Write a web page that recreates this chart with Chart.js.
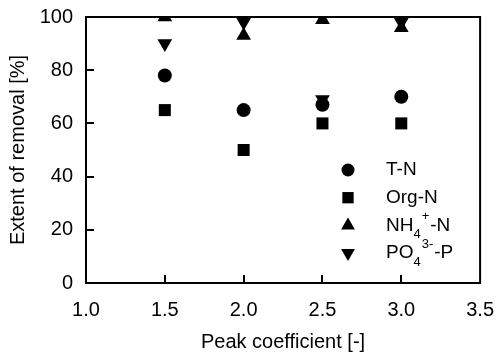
<!DOCTYPE html>
<html lang="en">
<head>
  <meta charset="UTF-8">
  <title>Extent of removal vs peak coefficient</title>
  <script src="https://cdn.jsdelivr.net/npm/chart.js"></script>
  <style>
    body { margin: 0; background: #fff; }
    #wrap { width: 501px; height: 354px; }
  </style>
</head>
<body>
  <div id="wrap"><canvas id="chart" width="501" height="354"></canvas></div>

  <script>
    // values
    const peak = [1.5, 2.0, 2.5, 3.0];
    const tN = [78, 65, 67, 70];
    const orgN = [65, 50, 60, 60];
    const nh4N = [100, 93, 99, 96];
    const po4P = [90, 98, 69, 98];
    const xTicks = [1.0, 1.5, 2.0, 2.5, 3.0, 3.5];
    const yTicks = [0, 20, 40, 60, 80, 100];

    const FONT = '"Liberation Sans", Arial, sans-serif';

    function pts(ys) {
      return peak.map((x, i) => ({ x: x, y: ys[i] }));
    }

    const series = [
      { label: 'T-N', data: pts(tN), style: 'circle', radius: 7, rot: 0, parts: [['T-N', 0]] },
      { label: 'Org-N', data: pts(orgN), style: 'rect', radius: 8.5, rot: 0, parts: [['Org-N', 0]] },
      { label: 'NH4+-N', data: pts(nh4N), style: 'triangle', radius: 8.5, rot: 0,
        parts: [['NH', 0], ['4', 1], ['+', -1], ['-N', 0]] },
      { label: 'PO43--P', data: pts(po4P), style: 'triangle', radius: 8.5, rot: 180,
        parts: [['PO', 0], ['4', 1], ['3-', -1], ['-P', 0]] }
    ];

    // box around the plot + inward tick marks
    const frame = {
      id: 'frame',
      afterDraw(chart) {
        const ctx = chart.ctx, a = chart.chartArea;
        const xs = chart.scales.x, ys = chart.scales.y;
        ctx.save();
        ctx.strokeStyle = '#000';
        ctx.lineWidth = 2;
        ctx.strokeRect(a.left, a.top, a.right - a.left, a.bottom - a.top);
        ctx.beginPath();
        yTicks.slice(1, -1).forEach(v => {
          const y = Math.round(ys.getPixelForValue(v));
          ctx.moveTo(a.left, y);
          ctx.lineTo(a.left + 8, y);
        });
        xTicks.slice(1, -1).forEach(v => {
          const x = Math.round(xs.getPixelForValue(v));
          ctx.moveTo(x, a.bottom);
          ctx.lineTo(x, a.bottom - 8);
        });
        ctx.stroke();
        ctx.restore();
      }
    };

    function marker(ctx, style, x, y, r, rot) {
      ctx.beginPath();
      if (style === 'circle') {
        ctx.arc(x, y, r, 0, Math.PI * 2);
      } else if (style === 'rect') {
        const s = r * Math.SQRT1_2;
        ctx.rect(x - s, y - s, 2 * s, 2 * s);
      } else {
        const d = rot ? -1 : 1;
        ctx.moveTo(x, y - d * r);
        ctx.lineTo(x + r * 0.866, y + d * r * 0.5);
        ctx.lineTo(x - r * 0.866, y + d * r * 0.5);
        ctx.closePath();
      }
      ctx.fill();
    }

    // legend with sub/superscripts, drawn inside the plot
    const legendBox = {
      id: 'legendBox',
      afterDraw(chart) {
        const ctx = chart.ctx;
        ctx.save();
        ctx.fillStyle = '#000';
        ctx.textBaseline = 'middle';
        series.forEach((s, i) => {
          const y = 170 + i * 27.7;
          marker(ctx, s.style, 348, y, s.style === 'circle' ? 6.5 : s.radius - 0.5, s.rot);
          let x = 386;
          s.parts.forEach(([t, pos]) => {
            if (pos === 0) {
              ctx.font = '19px ' + FONT;
              ctx.fillText(t, x, y);
            } else {
              ctx.font = '13px ' + FONT;
              ctx.fillText(t, x, y + (pos > 0 ? 9 : -9));
            }
            x += ctx.measureText(t).width + (pos === 0 ? 0 : 1);
          });
        });
        ctx.restore();
      }
    };

    new Chart(document.getElementById('chart'), {
      type: 'scatter',
      data: {
        datasets: series.map(s => ({
          label: s.label,
          data: s.data,
          pointStyle: s.style,
          pointRadius: s.radius,
          pointRotation: s.rot,
          backgroundColor: '#000',
          borderColor: '#000',
          borderWidth: 0
        }))
      },
      options: {
        responsive: false,
        animation: false,
        layout: { padding: { top: 16, right: 14, left: 0, bottom: 0 } },
        plugins: { legend: { display: false }, tooltip: { enabled: false } },
        scales: {
          x: {
            type: 'linear', min: 1.0, max: 3.5,
            afterBuildTicks(scale) { scale.ticks = xTicks.map(v => ({ value: v })); },
            afterFit(scale) { scale.height = 71; },
            grid: { display: false },
            border: { display: false },
            ticks: {
              color: '#000', padding: 7,
              font: { family: FONT, size: 20 },
              callback: v => v.toFixed(1)
            },
            title: {
              display: true, text: 'Peak coefficient [-]', color: '#000',
              font: { family: FONT, size: 20 }, padding: { top: 10, bottom: 0 }
            }
          },
          y: {
            min: 0, max: 100,
            afterBuildTicks(scale) { scale.ticks = yTicks.map(v => ({ value: v })); },
            afterFit(scale) { scale.width = 86; },
            grid: { display: false },
            border: { display: false },
            ticks: { color: '#000', padding: 5, font: { family: FONT, size: 20 } },
            title: {
              display: true, text: 'Extent of removal [%]', color: '#000',
              font: { family: FONT, size: 20 }, padding: { top: 6, bottom: 0 }
            }
          }
        }
      },
      plugins: [frame, legendBox]
    });
  </script>
</body>
</html>
